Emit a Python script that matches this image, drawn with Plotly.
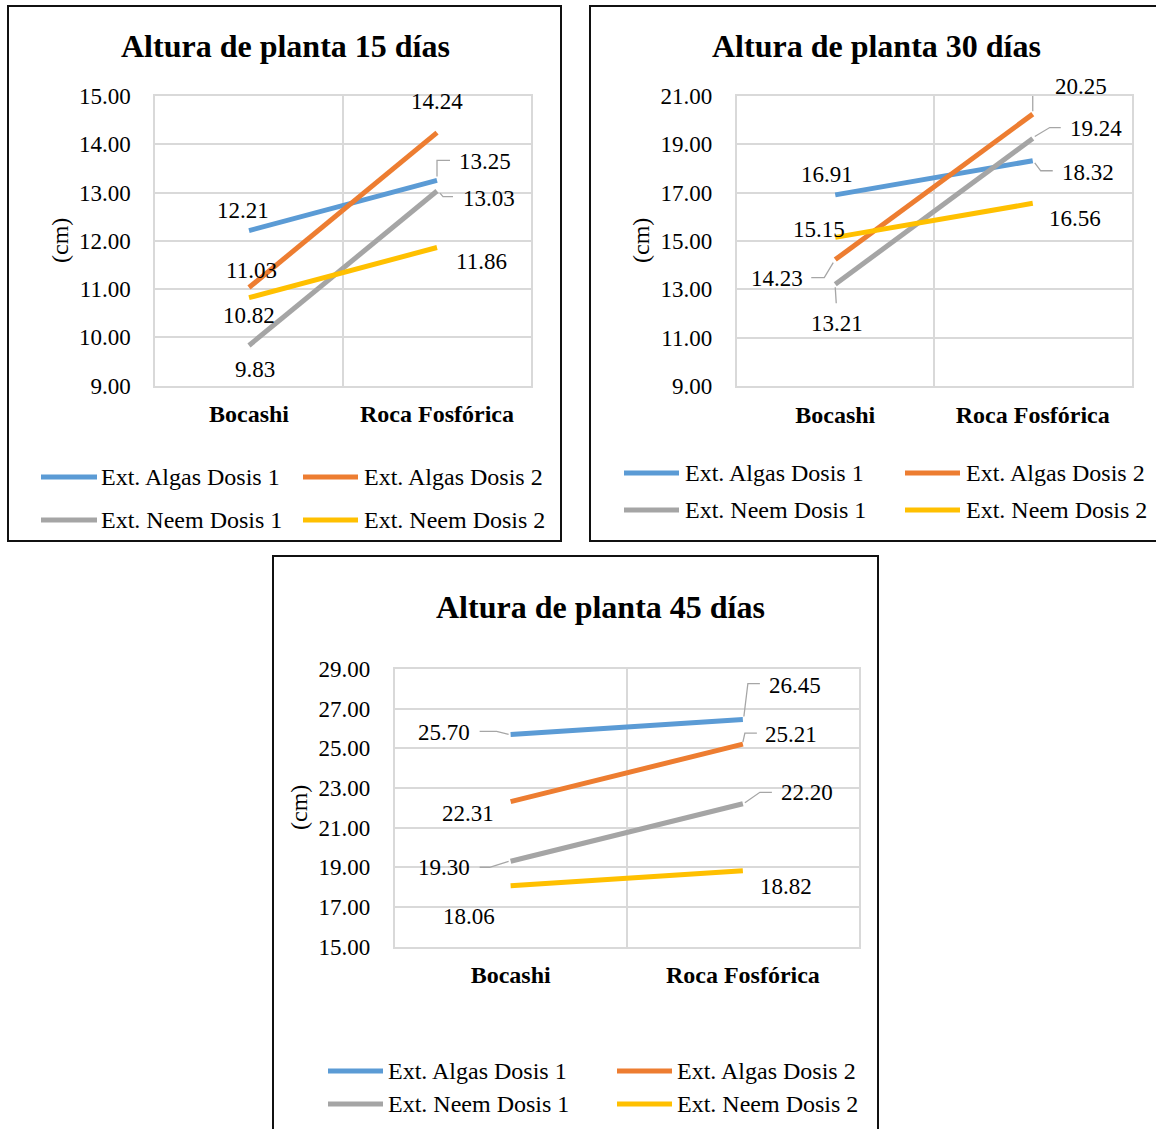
import plotly.graph_objects as go

# ---------------- data ----------------
categories = ["Bocashi", "Roca Fosfórica"]
series_names = ["Ext. Algas Dosis 1", "Ext. Algas Dosis 2", "Ext. Neem Dosis 1", "Ext. Neem Dosis 2"]
titles = ["Altura de planta 15 días", "Altura de planta 30 días", "Altura de planta 45 días"]
y_title = "(cm)"

d15_algas_d1 = [12.21, 13.25]
d15_algas_d2 = [11.03, 14.24]
d15_neem_d1 = [9.83, 13.03]
d15_neem_d2 = [10.82, 11.86]

d30_algas_d1 = [16.91, 18.32]
d30_algas_d2 = [14.23, 20.25]
d30_neem_d1 = [13.21, 19.24]
d30_neem_d2 = [15.15, 16.56]

d45_algas_d1 = [25.70, 26.45]
d45_algas_d2 = [22.31, 25.21]
d45_neem_d1 = [19.30, 22.20]
d45_neem_d2 = [18.06, 18.82]

y_ranges = [[9, 15], [9, 21], [15, 29]]
y_dticks = [1, 2, 2]

# ---------------- styling ----------------
W, H = 1156, 1129
FONT = "Liberation Serif"
colors = ["#5B9BD5", "#ED7D31", "#A5A5A5", "#FFC000"]
GRID = "#D9D9D9"
LEADER = "#A6A6A6"


def px(x):
    return x / W


def py(y):
    return 1 - y / H


panels = [
    dict(data=[d15_algas_d1, d15_algas_d2, d15_neem_d1, d15_neem_d2],
         plot=(155, 531, 96, 385.5), title=(285, 46), ylab=(60, 241),
         leg_rows=(477, 520), leg_lines=((41, 97), (303, 358)), leg_text=(99, 362),
         border=(8, 6, 561, 541),
         offsets=[[(-6, 20), (48, 19)], [(2, 17), (0, 31.5)],
                  [(6, -24), (52, -7)], [(0, -18), (44, -14)]],
         leaders=[(0, 1, "M0,4 L0,20 L13,20"), (2, 1, "M3,-2 L6,-5.6 L16,-5.6")]),
    dict(data=[d30_algas_d1, d30_algas_d2, d30_neem_d1, d30_neem_d2],
         plot=(736.5, 1131.5, 96, 386), title=(876, 46), ylab=(641, 241),
         leg_rows=(473, 510), leg_lines=((624, 679), (905, 960)), leg_text=(683, 964),
         border=(590, 6, 1175, 541),
         offsets=[[(-8, 20), (55.5, -12)], [(-58, -18.5), (48, 27.5)],
                  [(2, -39), (63, 10.5)], [(-16.5, 7.5), (42.5, -15)]],
         leaders=[(1, 0, "M-24,-18 L-11,-18 L-2,-3"), (2, 0, "M0,-3 L1,-19"),
                  (1, 1, "M0,3 L0,29 L12,29"), (2, 1, "M2,2 L17,11 L28,11"),
                  (0, 1, "M2,-2 L8,-10 L20,-10")]),
    dict(data=[d45_algas_d1, d45_algas_d2, d45_neem_d1, d45_neem_d2],
         plot=(394.5, 859, 669, 946.5), title=(600, 607), ylab=(299, 808),
         leg_rows=(1071, 1104), leg_lines=((328, 383), (617, 672)), leg_text=(386, 675),
         border=(273, 556, 878, 1145),
         offsets=[[(-67, 2), (52, 34.5)], [(-43, -11.5), (48, 10)],
                  [(-66.5, -6.5), (64.5, 11)], [(-41.5, -30.5), (43, -15.7)]],
         leaders=[(0, 0, "M-31,3 L-14,3 L-2,0"), (2, 0, "M-31,-6 L-21,-6 L-2,0"),
                  (0, 1, "M1,3 L5,36 L17,36"), (1, 1, "M0,2 L2,11 L14,11"),
                  (2, 1, "M2,1 L17,11.5 L29,11.5")]),
]

fig = go.Figure()
shapes = []
annotations = []
layout_axes = {}

for i, p in enumerate(panels):
    n = "" if i == 0 else str(i + 1)
    xref, yref = "x" + n, "y" + n
    x0, x1, ytop, ybot = p["plot"]

    for s, vals in enumerate(p["data"]):
        fig.add_trace(go.Scatter(
            x=categories, y=vals, mode="lines", name=series_names[s],
            line=dict(color=colors[s], width=5), xaxis=xref, yaxis=yref,
            showlegend=False, hoverinfo="x+y+name"))
        for c in range(2):
            dx, dy = p["offsets"][s][c]
            annotations.append(dict(
                x=categories[c], y=vals[c], xref=xref, yref=yref,
                xanchor="center", yanchor="middle",
                text=f"{vals[c]:.2f}", showarrow=False, xshift=dx, yshift=dy,
                font=dict(family=FONT, size=23, color="black")))

    for s, c, path in p["leaders"]:
        shapes.append(dict(
            type="path", xref=xref, yref=yref, xsizemode="pixel", ysizemode="pixel",
            xanchor=categories[c], yanchor=p["data"][s][c], path=path,
            line=dict(color=LEADER, width=1.3)))

    layout_axes["xaxis" + n] = dict(
        type="category", categoryorder="array", categoryarray=categories,
        domain=[px(x0), px(x1)], anchor=yref, range=[-0.5, 1.5], automargin=False,
        tickson="boundaries", showgrid=True, gridcolor=GRID, gridwidth=1.5,
        showline=True, linecolor=GRID, linewidth=1.5, mirror=True,
        ticks="", zeroline=False, fixedrange=True, ticklabelstandoff=6,
        tickfont=dict(family=FONT, size=24, color="black", weight="bold"))
    layout_axes["yaxis" + n] = dict(
        domain=[py(ybot), py(ytop)], anchor=xref, range=y_ranges[i], automargin=False,
        tick0=y_ranges[i][0], dtick=y_dticks[i], tickformat=".2f",
        showgrid=True, gridcolor=GRID, gridwidth=1.5,
        showline=True, linecolor=GRID, linewidth=1.5, mirror=True,
        ticks="", zeroline=False, fixedrange=True, ticklabelstandoff=18,
        tickfont=dict(family=FONT, size=23, color="black"))

    # title
    tx, ty = p["title"]
    annotations.append(dict(x=px(tx), y=py(ty), xref="paper", yref="paper",
                            xanchor="center", yanchor="middle",
                            text=f"<b>{titles[i]}</b>", showarrow=False,
                            font=dict(family=FONT, size=32, color="black")))
    # y-axis title
    lx, ly = p["ylab"]
    annotations.append(dict(x=px(lx), y=py(ly), xref="paper", yref="paper",
                            xanchor="center", yanchor="middle",
                            text=y_title, textangle=-90, showarrow=False,
                            font=dict(family=FONT, size=24, color="black")))
    # legend (drawn as keys + labels)
    for s in range(4):
        row, col = s // 2, s % 2
        yy = p["leg_rows"][row]
        lx0, lx1 = p["leg_lines"][col]
        shapes.append(dict(type="line", xref="paper", yref="paper",
                           x0=px(lx0), x1=px(lx1), y0=py(yy), y1=py(yy),
                           line=dict(color=colors[s], width=5)))
        annotations.append(dict(x=px(p["leg_text"][col]), y=py(yy), xref="paper", yref="paper",
                                xanchor="left", yanchor="middle", text=series_names[s],
                                showarrow=False,
                                font=dict(family=FONT, size=24, color="black")))
    # border
    bx0, by0, bx1, by1 = p["border"]
    shapes.append(dict(type="rect", xref="paper", yref="paper",
                       x0=px(bx0), x1=px(bx1), y0=py(by1), y1=py(by0),
                       line=dict(color="#111111", width=2), fillcolor="rgba(0,0,0,0)"))

fig.update_layout(
    width=W, height=H, margin=dict(l=0, r=0, t=0, b=0, pad=0), autosize=False,
    paper_bgcolor="white", plot_bgcolor="white",
    font=dict(family=FONT, color="black"),
    shapes=shapes, annotations=annotations, showlegend=False,
    **layout_axes)

fig.write_html("out.html")
